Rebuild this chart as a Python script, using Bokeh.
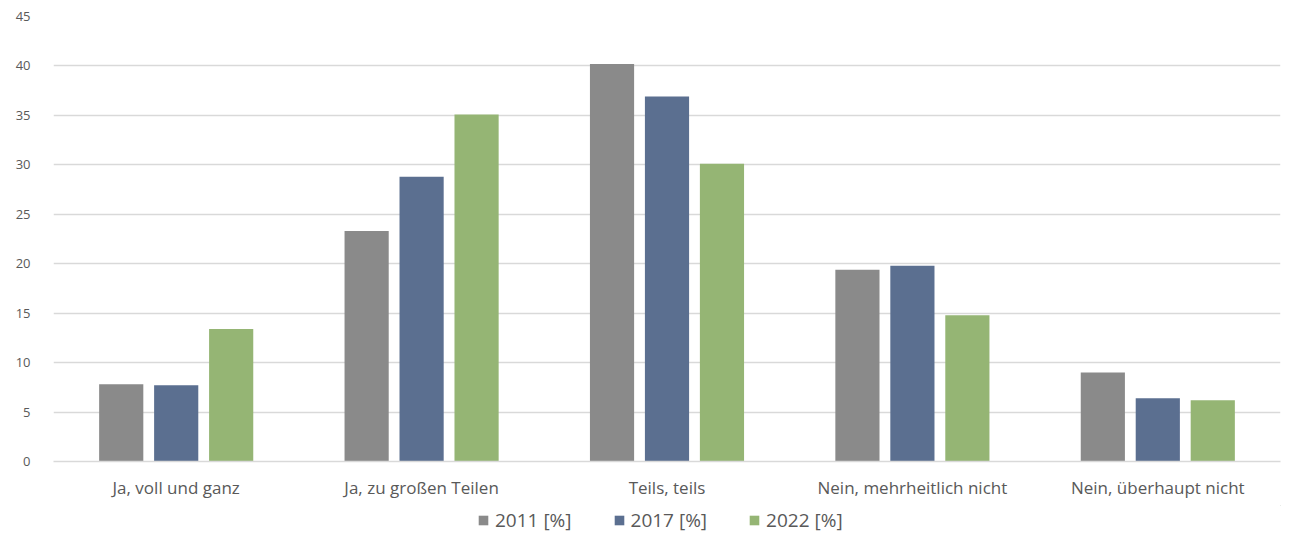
from bokeh.plotting import figure
from bokeh.layouts import column
from bokeh.models import ColumnDataSource, Range1d, FactorRange, Legend, LegendItem, SingleIntervalTicker
from bokeh.transform import dodge
from bokeh.embed import file_html
from bokeh.resources import INLINE

categories = ["Ja, voll und ganz", "Ja, zu großen Teilen", "Teils, teils",
              "Nein, mehrheitlich nicht", "Nein, überhaupt nicht"]
v2011 = [7.8, 23.3, 40.2, 19.4, 9.0]
v2017 = [7.7, 28.8, 36.9, 19.8, 6.4]
v2022 = [13.4, 35.1, 30.1, 14.8, 6.2]
series_labels = ["2011 [%]", "2017 [%]", "2022 [%]"]
colors = ["#8a8a8a", "#5b6f90", "#95b574"]

src = ColumnDataSource(dict(cat=categories, a=v2011, b=v2017, c=v2022))

p = figure(width=1308, height=505, output_backend="svg", toolbar_location=None,
           x_range=FactorRange(*categories, range_padding=0),
           y_range=Range1d(0, 45),
           min_border_left=53, min_border_right=28, min_border_top=16, min_border_bottom=44)
p.outline_line_color = None
p.background_fill_color = "white"
p.border_fill_color = "white"

for key, off, col in zip(["a", "b", "c"], [-0.224, 0.0, 0.224], colors):
    p.vbar(x=dodge("cat", off, range=p.x_range), top=key, width=0.18, bottom=0,
           source=src, fill_color=col, line_color=None)

p.yaxis.ticker = SingleIntervalTicker(interval=5)
p.yaxis.axis_line_color = None
p.yaxis.major_tick_line_color = None
p.yaxis.minor_tick_line_color = None
p.yaxis.major_label_standoff = 17
p.yaxis.major_label_text_font = "Open Sans"
p.yaxis.major_label_text_font_size = "13px"
p.yaxis.major_label_text_color = "#595959"

p.xaxis.axis_line_color = "#d9d9d9"
p.xaxis.axis_line_width = 1.5
p.xaxis.major_tick_line_color = None
p.xaxis.major_label_standoff = 8
p.xaxis.major_label_text_font = "Open Sans"
p.xaxis.major_label_text_font_size = "17px"
p.xaxis.major_label_text_color = "#595959"

p.xgrid.grid_line_color = None
p.ygrid.grid_line_color = "#d9d9d9"
p.ygrid.grid_line_width = 1.5

# legend strip below the chart (proxy renderers sit outside the strip's visible range)
lg = figure(width=1308, height=30, output_backend="svg", toolbar_location=None,
            x_range=Range1d(0, 1), y_range=Range1d(0, 1),
            min_border=0, min_border_left=0, min_border_right=0,
            min_border_top=0, min_border_bottom=0)
lg.axis.visible = False
lg.grid.visible = False
lg.outline_line_color = None
proxies = [lg.vbar(x=[5], top=[5], bottom=[4], width=0.1, fill_color=c, line_color=None)
           for c in colors]
legend = Legend(items=[LegendItem(label=l, renderers=[r]) for l, r in zip(series_labels, proxies)],
                orientation="horizontal", location=(424, 2),
                label_text_font="Open Sans", label_text_font_size="19px",
                label_text_color="#595959", glyph_width=12, glyph_height=12,
                spacing=41, border_line_color=None, background_fill_alpha=0,
                margin=0, padding=0, label_standoff=6)
lg.add_layout(legend, "center")

open("out.html", "w").write(file_html(column(p, lg, spacing=0), INLINE))
